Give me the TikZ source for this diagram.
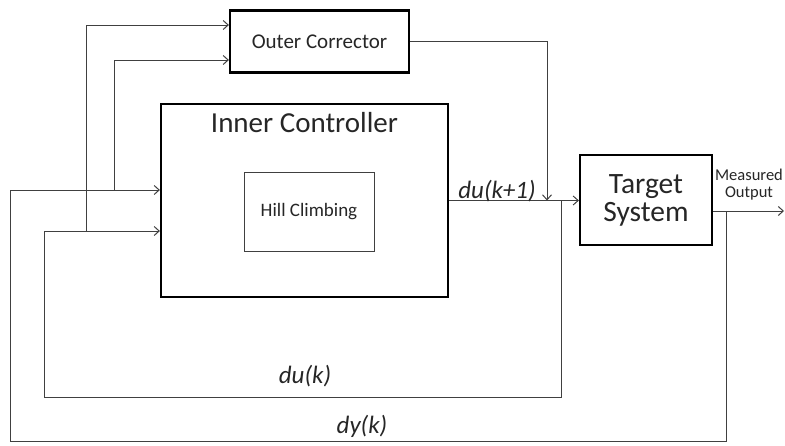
\documentclass[tikz,border=0pt]{standalone}
\usepackage{fontspec}
\setmainfont{Carlito}
\usetikzlibrary{positioning,arrows.meta,calc}
\tikzset{
  blk/.style    ={draw, rectangle, line width=2.2pt, align=center, inner sep=0pt, text=black!85},
  subblk/.style ={draw=black!75, rectangle, line width=0.9pt, align=center, inner sep=0pt, text=black!85},
  lbl/.style    ={font=\fontsize{25}{28}\selectfont\itshape, inner sep=0pt, text=black!85},
  wire/.style   ={line width=1pt, draw=black!75},
  arr/.style    ={-{Straight Barb[length=5pt, width=9pt]}, line width=1pt, draw=black!75},
}

\begin{document}
\begin{tikzpicture}[x=1pt, y=-1pt]
  \useasboundingbox (0,0) rectangle (785,445);

  \node[blk, minimum width=179pt, minimum height=62pt, font=\fontsize{21}{24}\selectfont] (outer) at (319.5,41.5) {Outer Corrector};
  \node[blk, minimum width=287pt, minimum height=193pt] (inner) at (304.5,200.5) {};
  \node[font=\fontsize{29}{32}\selectfont, anchor=base, inner sep=0pt, text=black!85] (innertitle) at (304.5,132) {Inner Controller};
  \node[subblk, minimum width=130pt, minimum height=79pt, font=\fontsize{19}{22}\selectfont] (hill) at (309,211.5) {Hill Climbing};
  \node[blk, minimum width=132pt, minimum height=90pt, font=\fontsize{29.5}{28}\selectfont] (target) at (646,200) {Target\\System};

  \coordinate (merge) at (547,200.5);
  \coordinate (jdu)   at (561,200.5);
  \coordinate (jdy)   at (726,211);
  \coordinate (out)   at (784,211);
  \coordinate (b1)    at (114,190);
  \coordinate (b2)    at (86,231);

  \draw[arr] (inner.east) -- (inner.east -| target.west);
  \draw[arr] (outer.east) -| (merge);
  \draw[arr] ([yshift=-11pt]target.east) -- (out);
  \draw[arr] (jdy) |- (10,441) |- ([yshift=10.5pt]inner.west);
  \draw[arr] (jdu) |- (44,397) |- ([yshift=-30.5pt]inner.west);
  \draw[arr] (b1) |- ([yshift=-18.5pt]outer.west);
  \draw[arr] (b2) |- ([yshift=16.5pt]outer.west);

  \node[lbl] (lblnext) at (497,191) {du(k+1)};
  \node[lbl] (lbldu)   at (305,376) {du(k)};
  \node[lbl] (lbldy)   at (362,426) {dy(k)};
  \node[font=\fontsize{16.5}{17}\selectfont, align=center, inner sep=0pt, text=black!85] (lblout) at (749,185) {Measured\\Output};
\end{tikzpicture}
\end{document}
